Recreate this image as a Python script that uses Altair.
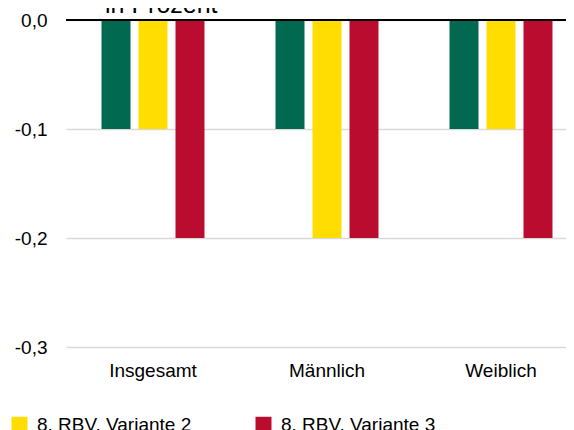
import altair as alt
import pandas as pd

groups = ["Insgesamt", "Männlich", "Weiblich"]
series = ["8. RBV, Variante 1", "8. RBV, Variante 2", "8. RBV, Variante 3"]
colors = ["#00694F", "#FFDD00", "#BA0C2F"]
values = {
    "8. RBV, Variante 1": [-0.1, -0.1, -0.1],
    "8. RBV, Variante 2": [-0.1, -0.2, -0.1],
    "8. RBV, Variante 3": [-0.2, -0.2, -0.2],
}
y_ticks = [0, -0.1, -0.2, -0.3]
title_text = "in Prozent"

rows = []
for s in series:
    for g, v in zip(groups, values[s]):
        rows.append({"Gruppe": g, "Serie": s, "Wert": v})
df = pd.DataFrame(rows)

FONT = "Liberation Sans"
FS = 19

bars = alt.Chart(df).mark_bar().encode(
    x=alt.X("Gruppe:N", sort=groups,
            scale=alt.Scale(range=[0, 522], paddingInner=0, paddingOuter=0),
            axis=alt.Axis(title=None, labelAngle=0, domain=False, ticks=False,
                          labelFontSize=FS, labelFont=FONT, labelColor="#000000",
                          labelPadding=14, grid=False)),
    xOffset=alt.XOffset("Serie:N", sort=series,
                        scale=alt.Scale(paddingInner=0.216, paddingOuter=0.96)),
    y=alt.Y("Wert:Q", scale=alt.Scale(domain=[-0.3, 0], nice=False),
            axis=alt.Axis(title=None, values=y_ticks, domain=False, ticks=False,
                          labelFontSize=FS, labelFont=FONT, labelColor="#000000",
                          labelPadding=19,
                          labelExpr="replace(replace(format(datum.value, '.1f'), '.', ','), '\u2212', '-')",
                          grid=True, gridColor="#d9d9d9", gridWidth=1.5)),
    color=alt.Color("Serie:N", sort=series,
                    scale=alt.Scale(domain=series, range=colors),
                    legend=alt.Legend(title=None, orient="none", direction="horizontal",
                                      values=series[1:],
                                      legendX=-56, legendY=395,
                                      symbolType="square", symbolSize=256,
                                      symbolStrokeWidth=0, symbolOpacity=1,
                                      labelFontSize=FS, labelFont=FONT,
                                      labelColor="#000000", labelOffset=8,
                                      columnPadding=62, labelLimit=300)),
)

zero = alt.Chart(pd.DataFrame({"z": [0]})).mark_rule(color="#000000", strokeWidth=2).encode(
    y=alt.Y("z:Q")
)

title = alt.Chart(pd.DataFrame({"t": [title_text]})).mark_text(
    align="left", baseline="alphabetic", fontSize=25, font=FONT, color="#000000"
).encode(
    x=alt.value(39), y=alt.value(-7), text="t:N"
)

chart = alt.layer(bars, zero, title).properties(
    width=500, height=327,
    autosize=alt.AutoSizeParams(type="none"),
    padding={"left": 58, "top": 12, "right": 0, "bottom": 83},
).configure_view(stroke=None)

chart.save("out.html", embed_options={"renderer": "svg", "actions": False})
